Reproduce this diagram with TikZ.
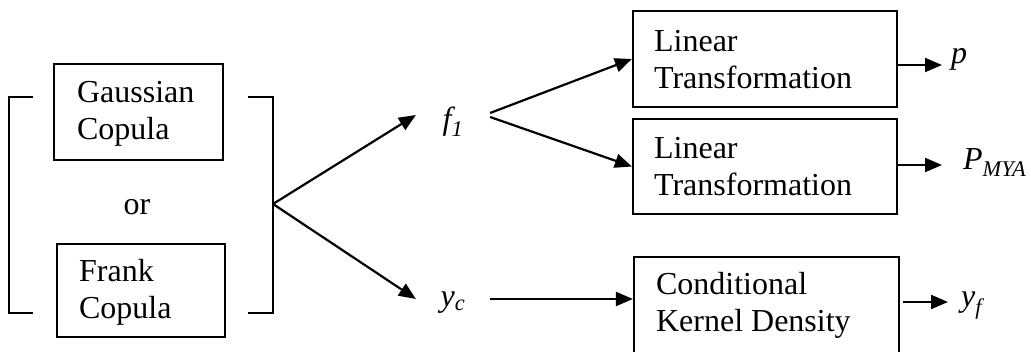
\documentclass[tikz,border=0pt]{standalone}
\usepackage{fontspec}
\setmainfont{Liberation Serif}
\usetikzlibrary{arrows.meta}
\begin{document}
\begin{tikzpicture}[x=1pt,y=-1pt, line width=2.2pt,
  font=\fontsize{32}{37}\selectfont,
  box/.style={draw, rectangle, inner sep=0},
  txt/.style={inner sep=0, anchor=base west},
  arr/.style={-{Triangle[length=17pt,width=14pt]}}]
\useasboundingbox (0,0) rectangle (1031,352);
\clip (0,0) rectangle (1031,352);
% copula boxes
\node[box, minimum width=169, minimum height=96] (gauss) at (138.5,112) {};
\node[txt] (gausst) at (76,103) {\begin{tabular}[t]{@{}l@{}}Gaussian\\Copula\end{tabular}};
\node[box, minimum width=168, minimum height=93] (frank) at (141,290.5) {};
\node[txt] (frankt) at (78,282) {\begin{tabular}[t]{@{}l@{}}Frank\\Copula\end{tabular}};
\node[anchor=base, inner sep=0] (or) at (137,215) {or};
% brackets
\draw (33,97) -| (9,313) -- (33,313);
\draw (248,97) -| (273,313) -- (248,313);
\coordinate (split) at (273,204);
% intermediate variables
\node[anchor=base, minimum width=72, inner sep=0, text height=30, text depth=0] (f1) at (453,130) {\textit{f\textsubscript{1}}};
\node[anchor=base, minimum width=72, inner sep=0, text height=16, text depth=0] (yc) at (453,307) {\textit{y\textsubscript{c}}};
% right boxes
\node[box, minimum width=264, minimum height=96] (lt1) at (765,59) {};
\node[txt] (lt1t) at (653,52) {\begin{tabular}[t]{@{}l@{}}Linear\\Transformation\end{tabular}};
\node[box, minimum width=264, minimum height=95] (lt2) at (765,166.5) {};
\node[txt] (lt2t) at (653,159) {\begin{tabular}[t]{@{}l@{}}Linear\\Transformation\end{tabular}};
\node[box, minimum width=265, minimum height=103] (ckd) at (766.5,308.5) {};
\node[txt] (ckdt) at (655,295) {\begin{tabular}[t]{@{}l@{}}Conditional\\Kernel Density\end{tabular}};
% outputs
\node[anchor=west, inner xsep=8, inner ysep=0, text height=0, text depth=2] (p) at (942,65) {\textit{p}};
\node[anchor=west, inner xsep=20, inner ysep=0, text height=10, text depth=0] (pm) at (942,165) {\textit{P\textsubscript{MYA}}};
\node[anchor=west, inner xsep=12, inner ysep=0, text height=10, text depth=0] (yf) at (948,302) {\textit{y\textsubscript{f}}};
% connectors
\draw[arr] (split) -- (f1.west);
\draw[arr] (split) -- (yc.west);
\draw[arr] ([yshift=2pt]f1.east) -- (lt1.west);
\draw[arr] ([yshift=-2pt]f1.east) -- (lt2.west);
\draw[arr] (yc.east) -- (yc.east -| ckd.west);
\draw[arr] (lt1.east |- p.west) -- (p.west);
\draw[arr] (lt2.east |- pm.west) -- (pm.west);
\draw[arr] ([xshift=3pt]ckd.east |- yf.west) -- (yf.west);
\end{tikzpicture}
\end{document}
